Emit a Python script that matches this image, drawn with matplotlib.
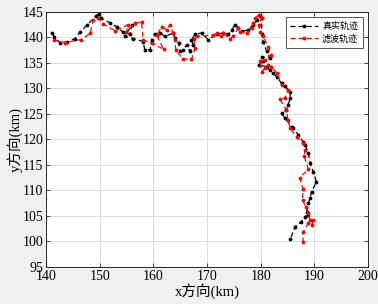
import matplotlib
matplotlib.use("Agg")
import matplotlib.pyplot as plt

plt.rcParams['font.family'] = ['Liberation Serif', 'Noto Sans CJK SC', 'DejaVu Sans']

true_x = [141.2, 141.5, 142.6, 144.0, 145.4, 146.3, 147.7, 149.4, 149.8, 150.2,
          151.9, 153.3, 154.4, 155.6, 156.0, 154.7, 156.3, 158.1, 158.4, 159.4,
          159.7, 160.3, 161.2, 162.2, 163.7, 164.0, 164.7, 165.0, 165.6, 166.2,
          166.8, 167.4, 167.1, 167.8, 169.0, 170.2, 171.8, 173.0, 174.0, 174.6,
          175.2, 175.8, 176.5, 177.7, 178.6, 179.3, 179.9, 180.2, 180.2, 180.5,
          181.1, 181.7, 180.2, 180.5, 179.6, 181.1, 181.7, 182.3, 183.0, 183.9,
          184.5, 185.5, 185.5, 185.1, 184.8, 183.9, 184.5, 185.8, 186.1, 187.0,
          187.9, 188.3, 188.9, 189.2, 189.8, 190.4, 189.5, 189.2, 188.9, 188.6,
          188.9, 188.3, 187.6, 186.4, 185.5]
true_y = [140.8, 140.1, 139.0, 139.1, 139.8, 141.0, 142.5, 144.3, 144.6, 143.8,
          142.9, 142.0, 141.0, 140.6, 142.5, 140.2, 139.8, 139.2, 137.6, 137.6,
          139.6, 140.6, 140.9, 140.2, 140.9, 139.9, 138.9, 137.3, 137.6, 138.6,
          137.3, 138.6, 139.6, 140.6, 140.9, 139.6, 140.6, 140.9, 140.6, 141.5,
          142.5, 141.9, 141.2, 141.5, 142.5, 143.5, 144.2, 143.8, 140.6, 139.2,
          137.3, 136.0, 136.2, 135.3, 134.6, 134.3, 133.6, 133.0, 132.3, 131.0,
          130.4, 129.4, 128.1, 126.8, 125.8, 125.1, 124.2, 122.5, 122.2, 120.9,
          119.6, 118.9, 117.3, 115.3, 113.7, 111.7, 109.8, 108.5, 107.5, 105.8,
          105.2, 104.9, 103.9, 102.9, 100.4]

filt_x = [141.4, 143.5, 146.6, 148.2, 148.8, 149.7, 150.7, 152.9, 155.3, 155.0,
          156.6, 157.8, 158.1, 159.7, 161.9, 160.6, 161.6, 162.5, 163.1, 163.7,
          164.0, 164.2, 165.5, 167.1, 167.8, 167.5, 168.1, 171.2, 171.8, 172.7,
          173.0, 174.3, 174.9, 175.8, 176.1, 177.4, 178.3, 178.6, 179.0, 179.6,
          180.2, 179.6, 179.9, 180.5, 181.4, 182.0, 180.8, 179.9, 180.2, 180.8,
          181.4, 182.0, 183.0, 183.9, 185.1, 184.5, 183.6, 184.8, 185.1, 185.5,
          186.7, 187.9, 188.3, 188.1, 188.9, 187.3, 187.9, 187.8, 188.4, 188.8,
          189.2, 189.8, 189.5, 188.9, 187.9, 187.9]
filt_y = [139.5, 139.0, 139.6, 140.8, 143.4, 143.8, 142.6, 141.3, 142.5, 141.1,
          142.8, 143.1, 139.5, 138.9, 137.7, 140.5, 142.1, 141.5, 142.5, 140.8,
          139.5, 137.5, 135.8, 135.7, 137.9, 139.8, 140.2, 140.5, 140.8, 140.2,
          140.8, 139.8, 140.2, 141.8, 141.1, 140.8, 141.8, 142.8, 143.8, 144.4,
          143.8, 142.5, 141.1, 140.2, 138.2, 136.6, 135.6, 135.3, 133.3, 134.0,
          134.6, 134.3, 133.0, 130.7, 129.7, 128.1, 127.9, 125.8, 123.8, 122.2,
          120.5, 119.4, 117.9, 116.8, 114.2, 112.5, 110.2, 108.1, 106.8, 105.5,
          104.2, 104.2, 103.2, 103.6, 101.9, 99.9]

labels = ['真实轨迹', '滤波轨迹']
x_ticks = [140, 150, 160, 170, 180, 190, 200]
y_ticks = [95, 100, 105, 110, 115, 120, 125, 130, 135, 140, 145]

fig = plt.figure(figsize=(3.78, 3.04), dpi=100, facecolor='#f0f0f0')
ax = fig.add_axes([46/378, 1-267/304, 322/378, 255/304])
ax.set_facecolor('white')

ax.plot(true_x, true_y, linestyle='--', color='black', marker='.', markersize=3.5,
        linewidth=0.9, dashes=(4, 2.5), label=labels[0])
ax.plot(filt_x, filt_y, linestyle='--', color='red', marker='.', markersize=3.5,
        linewidth=0.9, dashes=(4, 2.5), label=labels[1])

ax.set_xlim(140, 200)
ax.set_ylim(95, 145)
ax.set_xticks(x_ticks)
ax.set_yticks(y_ticks)
ax.grid(True, color='#dcdcdc', linewidth=0.7)
ax.set_axisbelow(True)
ax.tick_params(direction='in', top=True, right=True, labelsize=10, length=3,
               width=0.6, color='#262626', pad=2)
for s in ax.spines.values():
    s.set_color('#262626')
    s.set_linewidth(0.7)

ax.set_xlabel('x方向(km)', fontsize=10.5, labelpad=0)
ax.set_ylabel('y方向(km)', fontsize=10.5, labelpad=0)

leg = ax.legend(loc='upper right', fontsize=6.5, frameon=True, fancybox=False,
                edgecolor='#262626', borderpad=0.5, handlelength=3.0,
                labelspacing=0.35, borderaxespad=0.6, handletextpad=0.5)
leg.get_frame().set_linewidth(0.7)

fig.savefig('out.png', dpi=100, facecolor=fig.get_facecolor())
